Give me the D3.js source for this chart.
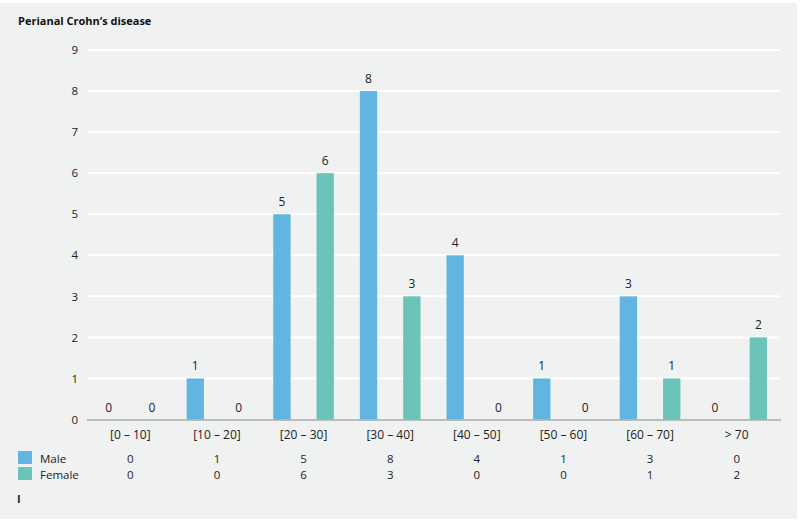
<!DOCTYPE html>
<html><head><meta charset="utf-8">
<script src="https://cdn.jsdelivr.net/npm/d3@7/dist/d3.min.js"></script>
<style>body{margin:0;background:#fff}svg{display:block}text{font-family:"Open Sans","DejaVu Sans",sans-serif}</style>
</head><body>
<svg id="c" width="800" height="522"></svg>
<script>
const categories = ["[0 – 10]","[10 – 20]","[20 – 30]","[30 – 40]","[40 – 50]","[50 – 60]","[60 – 70]","> 70"];
const seriesNames = ["Male","Female"];
const male = [0,1,5,8,4,1,3,0];
const female = [0,0,6,3,0,0,1,2];
const yTicks = [0,1,2,3,4,5,6,7,8,9];
const colors = ["#63b5e1","#6cc3b7"];
const title = "Perianal Crohn‘s disease";

const svg = d3.select("#c");
svg.append("rect").attr("x",0).attr("y",3).attr("width",797).attr("height",516).attr("fill","#f0f1f1");

const x0 = d3.scaleBand().domain(categories).range([87,780]).padding(0);
const x1 = d3.scaleBand().domain(seriesNames).range([0,x0.bandwidth()]).paddingInner(0.6).paddingOuter(0.3);
const y = d3.scaleLinear().domain([0,9]).range([419.5,50]);

// gridlines
svg.append("g").selectAll("line").data(yTicks.filter(d=>d>0)).join("line")
  .attr("x1",87).attr("x2",780).attr("y1",d=>y(d)).attr("y2",d=>y(d))
  .attr("stroke","#ffffff").attr("stroke-width",2);

// y axis labels
const yAxis = d3.axisLeft(y).tickValues(yTicks).tickSize(0).tickPadding(0).tickFormat(d3.format("d"));
const ya = svg.append("g").attr("transform","translate(78,0)").call(yAxis);
ya.select(".domain").remove();
ya.selectAll("text").attr("font-size",11.5).attr("fill","#222");

const data = categories.map((c,i)=>({cat:c, vals:[{s:"Male",v:male[i]},{s:"Female",v:female[i]}]}));

const g = svg.append("g").selectAll("g").data(data).join("g")
  .attr("transform",d=>`translate(${x0(d.cat)},0)`);
g.selectAll("rect").data(d=>d.vals).join("rect")
  .attr("x",d=>x1(d.s)).attr("width",x1.bandwidth())
  .attr("y",d=>y(d.v)).attr("height",d=>y(0)-y(d.v))
  .attr("fill",(d,i)=>colors[i]);
g.selectAll("text").data(d=>d.vals).join("text")
  .attr("x",d=>x1(d.s)+x1.bandwidth()/2).attr("y",d=>y(d.v)-8)
  .attr("text-anchor","middle").attr("font-size",12).attr("fill","#222")
  .text(d=>d.v);

// baseline
svg.append("line").attr("x1",87).attr("x2",781).attr("y1",y(0)+0.5).attr("y2",y(0)+0.5)
  .attr("stroke","#a8aaab").attr("stroke-width",1.5);

// x axis labels
const xAxis = d3.axisBottom(x0).tickSize(0).tickPadding(0);
const xa = svg.append("g").attr("transform","translate(0,430)").call(xAxis);
xa.select(".domain").remove();
xa.selectAll("text").attr("font-size",12).attr("fill","#222");

// table
const rows = [male,female];
rows.forEach((r,ri)=>{
  const yy = 463 + ri*16;
  svg.append("rect").attr("x",18).attr("y",yy-12).attr("width",14).attr("height",13).attr("fill",colors[ri]);
  svg.append("text").attr("x",40).attr("y",yy).attr("font-size",11.5).attr("fill","#222").text(seriesNames[ri]);
  svg.append("g").selectAll("text").data(r).join("text")
    .attr("x",(d,i)=>x0(categories[i])+x0.bandwidth()/2).attr("y",yy)
    .attr("text-anchor","middle").attr("font-size",11.5).attr("fill","#222").text(d=>d);
});

svg.append("text").attr("x",18).attr("y",25).attr("font-size",11).attr("font-weight","bold").attr("fill","#111").text(title);
svg.append("text").attr("x",17).attr("y",503).attr("font-size",11).attr("font-weight","bold").attr("fill","#222").text("I");
</script>
</body></html>
